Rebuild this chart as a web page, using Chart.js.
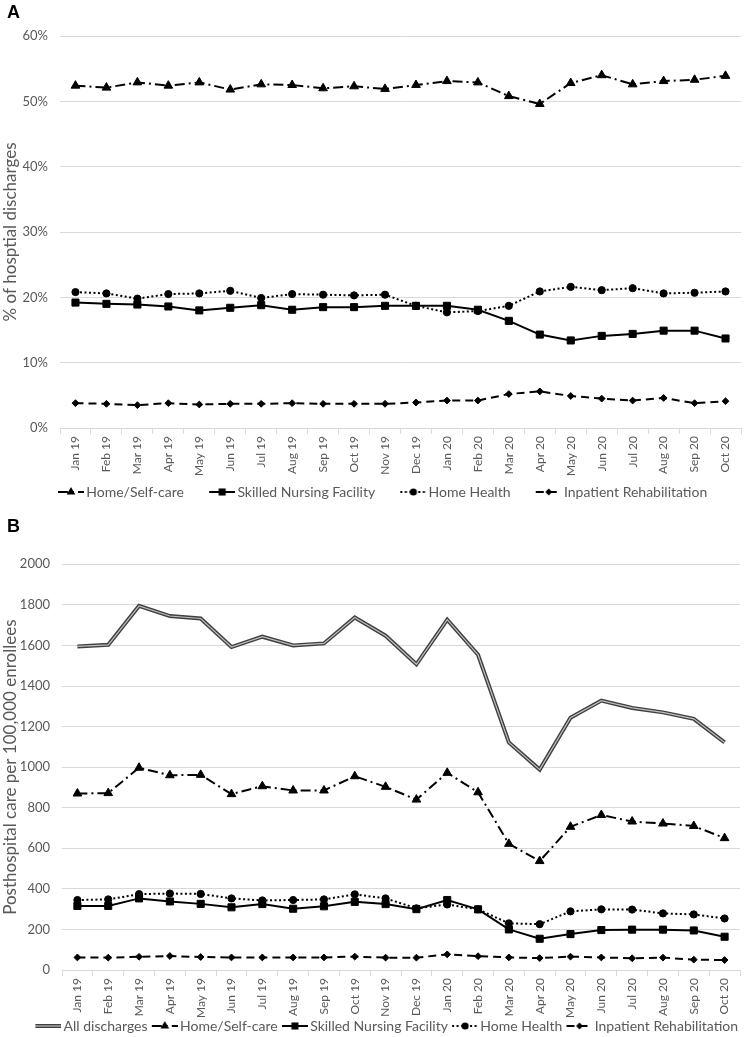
<!DOCTYPE html>
<html>
<head>
<meta charset="utf-8">
<script src="https://cdn.jsdelivr.net/npm/chart.js@4.4.0/dist/chart.umd.min.js"></script>
<style>
  body { margin: 0; background: #fff; width: 747px; height: 1037px; position: relative; overflow: hidden; }
  .panel { position: absolute; left: 0; width: 747px; }
  .tag { position: absolute; left: 7px; z-index: 2; font: bold 18px "Liberation Sans", Arial, sans-serif; line-height: 18px; color: #000; }
</style>
</head>
<body>
<div class="panel" style="top:0;height:509px"><canvas id="chartA"></canvas></div>
<div class="panel" style="top:505px;height:538px"><canvas id="chartB"></canvas></div>
<div class="tag" style="top:3px">A</div>
<div class="tag" style="top:517px">B</div>
<script>
  const months = ['Jan 19', 'Feb 19', 'Mar 19', 'Apr 19', 'May 19', 'Jun 19', 'Jul 19', 'Aug 19', 'Sep 19', 'Oct 19', 'Nov 19', 'Dec 19',
    'Jan 20', 'Feb 20', 'Mar 20', 'Apr 20', 'May 20', 'Jun 20', 'Jul 20', 'Aug 20', 'Sep 20', 'Oct 20'];

  // panel A: % of hospital discharges
  const shareHome = [52.4, 52.1, 52.9, 52.4, 52.9, 51.8, 52.6, 52.5, 52.0, 52.3, 51.9, 52.5, 53.1, 52.9, 50.8, 49.6, 52.8, 54.0, 52.6, 53.1, 53.3, 53.9];
  const shareSnf = [19.2, 19.0, 18.9, 18.6, 18.0, 18.4, 18.8, 18.1, 18.5, 18.5, 18.7, 18.7, 18.7, 18.1, 16.4, 14.3, 13.4, 14.1, 14.4, 14.9, 14.9, 13.7];
  const shareHh = [20.8, 20.6, 19.8, 20.5, 20.6, 21.0, 19.9, 20.5, 20.4, 20.3, 20.4, 18.7, 17.7, 17.9, 18.7, 20.9, 21.6, 21.1, 21.4, 20.6, 20.7, 20.9];
  const shareIrf = [3.8, 3.7, 3.5, 3.8, 3.6, 3.7, 3.7, 3.8, 3.7, 3.7, 3.7, 3.9, 4.2, 4.2, 5.2, 5.6, 4.9, 4.5, 4.2, 4.6, 3.8, 4.1];
  const ticksA = [0, 10, 20, 30, 40, 50, 60];

  // panel B: posthospital care per 100,000 enrollees
  const rateAll = [1595, 1603, 1795, 1745, 1733, 1592, 1643, 1600, 1610, 1738, 1648, 1507, 1727, 1554, 1122, 988, 1244, 1328, 1292, 1270, 1238, 1122];
  const rateHome = [870, 872, 997, 960, 962, 867, 906, 885, 885, 955, 903, 840, 972, 876, 622, 537, 706, 764, 732, 722, 710, 650];
  const rateSnf = [316, 316, 353, 338, 326, 309, 325, 302, 314, 336, 325, 300, 345, 299, 200, 154, 177, 197, 199, 199, 195, 164];
  const rateHh = [345, 348, 374, 377, 375, 353, 343, 345, 348, 373, 353, 304, 323, 299, 230, 226, 289, 299, 298, 279, 274, 254];
  const rateIrf = [62, 61, 65, 69, 64, 62, 62, 62, 62, 66, 61, 61, 77, 68, 62, 59, 66, 62, 58, 61, 51, 49];
  const ticksB = [0, 200, 400, 600, 800, 1000, 1200, 1400, 1600, 1800, 2000];

  Chart.defaults.font.family = 'Lato, "Liberation Sans", sans-serif';
  Chart.defaults.color = '#595959';

  const looks = {
    all: { double: true },
    home: { dash: [10, 4, 2, 4], point: 'triangle', r: 5 },
    snf: { dash: [], point: 'rect', r: 5 },
    hh: { dash: [2, 2.5], point: 'circle', r: 3.6 },
    irf: { dash: [8, 5], point: 'rectRot', r: 3.4 }
  };

  function marker(g, style, r, x, y) {
    g.beginPath();
    if (style === 'circle') {
      g.arc(x, y, r, 0, Math.PI * 2);
    } else if (style === 'rect') {
      const s = r * Math.SQRT1_2;
      g.rect(x - s, y - s, 2 * s, 2 * s);
    } else if (style === 'triangle') {
      g.moveTo(x, y - r);
      g.lineTo(x + r * 0.866, y + r / 2);
      g.lineTo(x - r * 0.866, y + r / 2);
      g.closePath();
    } else {
      g.moveTo(x, y - r); g.lineTo(x + r, y); g.lineTo(x, y + r); g.lineTo(x - r, y); g.closePath();
    }
    g.fill();
  }

  // legend sample: 26px line piece at the right end of a canvas a bit wider than the legend box
  function sample(look, boxW) {
    const c = document.createElement('canvas');
    c.width = boxW + 10; c.height = 14;
    const g = c.getContext('2d');
    const x0 = c.width - 26, x1 = c.width, y = 7;
    const seg = () => { g.beginPath(); g.moveTo(x0, y); g.lineTo(x1, y); g.stroke(); };
    if (look.double) {
      g.strokeStyle = '#404040'; g.lineWidth = 4; seg();
      g.strokeStyle = '#bfbfbf'; g.lineWidth = 1.2; seg();
    } else {
      g.strokeStyle = '#000'; g.fillStyle = '#000'; g.lineWidth = 2;
      g.setLineDash(look.dash); seg(); g.setLineDash([]);
      marker(g, look.point, look.r, x1 - 13, y);
    }
    return c;
  }

  function lineSet(label, data, look) {
    return {
      label, data,
      borderColor: '#000', backgroundColor: '#000', borderWidth: 2, borderDash: look.dash,
      pointStyle: look.point, pointRadius: look.r, pointHoverRadius: look.r, pointBorderWidth: 1,
      pointBackgroundColor: '#000', pointBorderColor: '#000', tension: 0, order: 0
    };
  }

  function legendOpts(keys, boxW, pad, align) {
    const pics = keys.map(k => sample(looks[k], boxW));
    return {
      position: 'bottom', align,
      labels: {
        usePointStyle: true, pointStyleWidth: boxW, padding: pad, color: '#595959', font: { size: 14 },
        generateLabels: chart => chart.data.datasets
          .map((d, i) => ({ text: d.label, datasetIndex: i, fontColor: '#595959', lineWidth: 0, hidden: false, inner: d.inner }))
          .filter(l => !l.inner)
          .map((l, j) => Object.assign(l, { pointStyle: pics[j] }))
      }
    };
  }

  function xScale(height) {
    return {
      offset: true,
      afterFit: s => { s.height = height; },
      grid: { offset: true, drawOnChartArea: false, tickLength: 6, color: '#d9d9d9' },
      border: { display: true, color: '#d9d9d9' },
      ticks: { autoSkip: false, minRotation: 90, maxRotation: 90, padding: 2, font: { size: 12 } }
    };
  }

  function yScale(ticks, title, width, fmt) {
    return {
      min: ticks[0], max: ticks[ticks.length - 1],
      afterBuildTicks: s => { s.ticks = ticks.map(v => ({ value: v })); },
      afterFit: s => { s.width = width; },
      grid: { color: '#d9d9d9', drawTicks: false },
      border: { display: false },
      ticks: { padding: 12, font: { size: 13 }, callback: fmt },
      title: { display: true, text: title, font: { size: 17 }, padding: { top: 0, bottom: 0 } }
    };
  }

  new Chart(document.getElementById('chartA'), {
    type: 'line',
    data: {
      labels: months,
      datasets: [
        lineSet('Home/Self-care', shareHome, looks.home),
        lineSet('Skilled Nursing Facility', shareSnf, looks.snf),
        lineSet('Home Health', shareHh, looks.hh),
        lineSet('Inpatient Rehabilitation', shareIrf, looks.irf)
      ]
    },
    options: {
      animation: false, responsive: true, maintainAspectRatio: false, devicePixelRatio: 1,
      layout: { padding: { top: 36, right: 2, bottom: 0, left: 0 } },
      plugins: { legend: legendOpts(['home', 'snf', 'hh', 'irf'], 41.5, 5, 'center'), tooltip: { enabled: false } },
      scales: {
        x: xScale(52),
        y: yScale(ticksA, '% of hosptial discharges', 60, v => v + '%')
      }
    }
  });

  new Chart(document.getElementById('chartB'), {
    type: 'line',
    data: {
      labels: months,
      datasets: [
        { label: 'All discharges', data: rateAll, borderColor: '#404040', borderWidth: 4, pointRadius: 0, tension: 0, order: 2 },
        { label: 'All discharges', data: rateAll, borderColor: '#bfbfbf', borderWidth: 1.2, pointRadius: 0, tension: 0, order: 1, inner: true },
        lineSet('Home/Self-care', rateHome, looks.home),
        lineSet('Skilled Nursing Facility', rateSnf, looks.snf),
        lineSet('Home Health', rateHh, looks.hh),
        lineSet('Inpatient Rehabilitation', rateIrf, looks.irf)
      ]
    },
    options: {
      animation: false, responsive: true, maintainAspectRatio: false, devicePixelRatio: 1,
      layout: { padding: { top: 59.3, right: 7, bottom: 0, left: 0 } },
      plugins: { legend: legendOpts(['all', 'home', 'snf', 'hh', 'irf'], 23.5, 2, 'end'), tooltip: { enabled: false } },
      scales: {
        x: xScale(47),
        y: yScale(ticksB, 'Posthospital care per 100,000 enrollees', 62, v => String(v))
      }
    }
  });
</script>
</body>
</html>
